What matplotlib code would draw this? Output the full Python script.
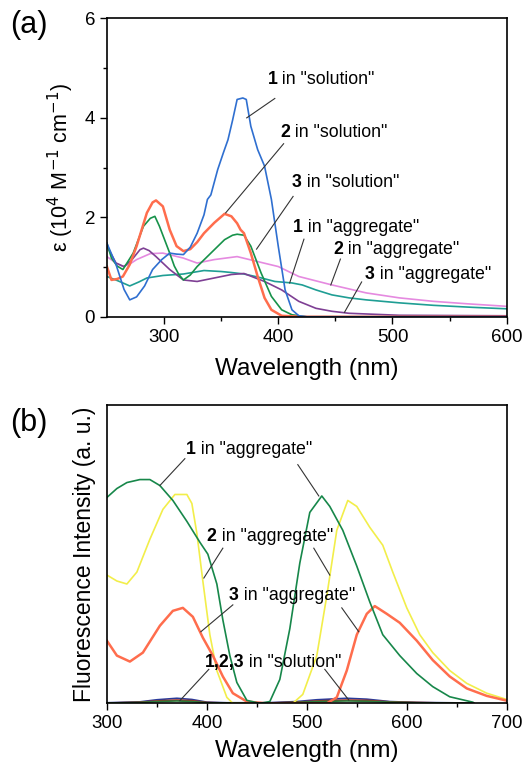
import numpy as np
import matplotlib.pyplot as plt

plt.rcParams['font.family'] = ['Liberation Sans', 'DejaVu Sans']

# ---- panel (a): absorption, epsilon in 10^4 M-1 cm-1 ----
wl_1sol = [250, 258, 265, 270, 276, 283, 290, 298, 305, 311, 317, 323, 329, 335, 338, 341, 347, 352, 356, 360,
           364, 369, 372, 376, 382, 388, 394, 400, 406, 412, 418, 425, 440, 600]
eps_1sol = [1.48, 1.05, 0.55, 0.34, 0.40, 0.62, 0.95, 1.15, 1.28, 1.26, 1.25, 1.40, 1.68, 2.05, 2.36, 2.45, 2.96, 3.30, 3.56, 3.95,
            4.37, 4.40, 4.37, 3.83, 3.36, 3.03, 2.36, 1.42, 0.54, 0.14, 0.02, 0.0, 0.0, 0.0]

wl_2sol = [250, 254, 259, 264, 270, 276, 285, 290, 293, 299, 305, 311, 317, 323, 329, 335, 344, 353, 359, 364,
           367, 370, 376, 382, 388, 394, 403, 420, 600]
eps_2sol = [1.01, 0.74, 0.76, 0.81, 1.05, 1.42, 2.09, 2.30, 2.34, 2.22, 1.75, 1.42, 1.32, 1.36, 1.50, 1.68, 1.89, 2.07, 2.02, 1.88,
            1.75, 1.68, 1.28, 0.81, 0.38, 0.14, 0.02, 0.0, 0.0]

wl_3sol = [250, 254, 259, 264, 273, 282, 288, 292, 296, 300, 305, 309, 313, 317, 323, 329, 341, 353, 360, 364,
           370, 376, 385, 394, 403, 412, 425, 600]
eps_3sol = [1.48, 1.18, 1.02, 0.95, 1.28, 1.82, 1.98, 2.02, 1.82, 1.58, 1.28, 1.02, 0.85, 0.74, 0.84, 1.01, 1.28, 1.55, 1.64, 1.66,
            1.64, 1.42, 0.88, 0.41, 0.14, 0.04, 0.0, 0.0]

wl_1agg = [250, 260, 270, 278, 285, 299, 317, 335, 350, 359, 370, 382, 397, 412, 421, 433, 447, 462, 477, 506, 536, 570, 600]
eps_1agg = [0.81, 0.72, 0.62, 0.70, 0.78, 0.83, 0.86, 0.93, 0.91, 0.89, 0.86, 0.80, 0.71, 0.68, 0.64, 0.54, 0.44, 0.38, 0.34, 0.28, 0.23, 0.19, 0.16]

wl_2agg = [250, 258, 264, 270, 276, 288, 299, 317, 329, 344, 364, 382, 400, 418, 447, 477, 506, 536, 566, 600]
eps_2agg = [1.21, 1.08, 1.01, 1.06, 1.15, 1.27, 1.28, 1.18, 1.08, 1.15, 1.21, 1.11, 1.01, 0.81, 0.64, 0.48, 0.38, 0.31, 0.26, 0.21]

wl_3agg = [250, 258, 265, 272, 279, 282, 287, 293, 305, 317, 329, 344, 359, 370, 388, 403, 418, 433, 447, 462, 506, 600]
eps_3agg = [1.42, 1.08, 1.01, 1.15, 1.35, 1.38, 1.33, 1.21, 0.95, 0.74, 0.71, 0.78, 0.85, 0.87, 0.71, 0.54, 0.31, 0.17, 0.11, 0.07, 0.03, 0.02]

# ---- panel (b): fluorescence, arbitrary units ----
wl_f1 = [300, 310, 320, 333, 343, 353, 366, 380, 393, 401, 410, 416, 423, 430, 440, 453, 463, 473, 483, 493,
         503, 515, 523, 536, 550, 563, 576, 593, 610, 626, 643, 666]
fl_1agg = [0.69, 0.72, 0.74, 0.75, 0.75, 0.73, 0.68, 0.61, 0.54, 0.50, 0.40, 0.28, 0.16, 0.07, 0.01, 0.0, 0.006, 0.08, 0.25, 0.47,
           0.64, 0.695, 0.66, 0.58, 0.46, 0.34, 0.23, 0.16, 0.10, 0.056, 0.022, 0.004]

wl_f2 = [300, 310, 320, 330, 343, 356, 368, 380, 385, 390, 396, 403, 410, 420, 426, 486, 496, 510, 520, 530,
         541, 550, 563, 576, 586, 600, 613, 626, 643, 660, 680, 700]
fl_2agg = [0.43, 0.41, 0.40, 0.44, 0.55, 0.65, 0.70, 0.70, 0.67, 0.57, 0.41, 0.23, 0.11, 0.02, 0.0, 0.0, 0.03, 0.16, 0.36, 0.58,
           0.68, 0.66, 0.59, 0.53, 0.44, 0.32, 0.23, 0.17, 0.11, 0.067, 0.034, 0.013]

wl_f3 = [300, 310, 323, 336, 353, 366, 376, 386, 396, 406, 416, 426, 440, 460, 520, 530, 540, 550, 560, 568,
         580, 593, 610, 626, 643, 660, 680, 700]
fl_3agg = [0.21, 0.16, 0.14, 0.17, 0.26, 0.31, 0.32, 0.29, 0.22, 0.16, 0.09, 0.034, 0.006, 0.0, 0.0, 0.02, 0.11, 0.23, 0.30, 0.326,
           0.30, 0.27, 0.21, 0.145, 0.09, 0.05, 0.025, 0.009]

wl_fsol = [300, 333, 350, 370, 385, 400, 420, 460, 490, 510, 540, 560, 583, 610, 640, 667]
fl_1sol = [0.002, 0.005, 0.012, 0.017, 0.013, 0.004, 0.002, 0.002, 0.006, 0.012, 0.017, 0.014, 0.006, 0.003, 0.002, 0.001]
fl_2sol = [0.001, 0.004, 0.008, 0.011, 0.009, 0.003, 0.001, 0.001, 0.004, 0.008, 0.011, 0.010, 0.005, 0.003, 0.001, 0.0]
fl_3sol = [0.001, 0.003, 0.006, 0.008, 0.006, 0.002, 0.001, 0.001, 0.003, 0.006, 0.008, 0.007, 0.004, 0.002, 0.001, 0.0]

fig = plt.figure(figsize=(5.24, 7.67), dpi=100)
ax1 = fig.add_axes([0.204, 0.587, 0.763, 0.389])
ax2 = fig.add_axes([0.204, 0.083, 0.763, 0.389])

lw = 1.2
ax1.plot(wl_2agg, eps_2agg, color='#e58ae0', lw=lw)
ax1.plot(wl_1agg, eps_1agg, color='#1f9e94', lw=lw)
ax1.plot(wl_3agg, eps_3agg, color='#7e3f94', lw=lw)
ax1.plot(wl_3sol, eps_3sol, color='#17924a', lw=lw)
ax1.plot(wl_2sol, eps_2sol, color='#ff6d4d', lw=1.8)
ax1.plot(wl_1sol, eps_1sol, color='#2f6fd0', lw=lw)

ax1.set_xlim(250, 600)
ax1.set_ylim(0, 6)
ax1.set_xticks([300, 400, 500, 600])
ax1.set_xticks([350, 450, 550], minor=True)
ax1.set_yticks([0, 2, 4, 6])
ax1.set_yticks([1, 3, 5], minor=True)
ax1.set_xlabel('Wavelength (nm)', fontsize=17.5, labelpad=9)
ax1.set_ylabel('ε (10$^4$ M$^{-1}$ cm$^{-1}$)', fontsize=15.5, labelpad=6)

# leader lines and labels, panel (a)
labels_a = [
    ((372.4, 4.00), (397, 4.39), (390.5, 4.77), '1', ' in "solution"'),
    ((354, 2.09), (404.7, 3.48), (402, 3.70), '2', ' in "solution"'),
    ((381, 1.36), (413, 2.42), (412, 2.70), '3', ' in "solution"'),
    ((410, 0.68), (422.5, 1.56), (413, 1.80), '1', ' in "aggregate"'),
    ((446, 0.64), (454.4, 1.16), (448, 1.35), '2', ' in "aggregate"'),
    ((458, 0.09), (473, 0.70), (476, 0.86), '3', ' in "aggregate"'),
]
for p0, p1, pt, num, rest in labels_a:
    ax1.plot([p0[0], p1[0]], [p0[1], p1[1]], color='#333333', lw=0.8)
    t = ax1.text(pt[0], pt[1], num, fontsize=12.8, fontweight='bold', va='center', ha='left')
    ax1.annotate(rest, xycoords=t, xy=(1, 0.5), va='center', ha='left', fontsize=12.8)

ax2.plot(wl_fsol, fl_1sol, color='#2a3a9a', lw=lw)
ax2.plot(wl_fsol, fl_2sol, color='#a03020', lw=lw)
ax2.plot(wl_fsol, fl_3sol, color='#2a7a3a', lw=lw)
ax2.plot(wl_f2, fl_2agg, color='#f2ee4a', lw=lw)
ax2.plot(wl_f3, fl_3agg, color='#ff6d4d', lw=1.8)
ax2.plot(wl_f1, fl_1agg, color='#17874a', lw=lw)

ax2.set_xlim(300, 700)
ax2.set_ylim(0, 1)
ax2.set_xticks([300, 400, 500, 600, 700])
ax2.set_xticks([350, 450, 550, 650], minor=True)
ax2.set_yticks([])
ax2.set_xlabel('Wavelength (nm)', fontsize=17.5, labelpad=6)
ax2.set_ylabel('Fluorescence Intensity (a. u.)', fontsize=16.5, labelpad=8)

labels_b = [
    ([(353, 0.73), (512, 0.695)], [(378, 0.82), (491, 0.80)], (379, 0.85), '1', ' in "aggregate"'),
    ([(397, 0.42), (523, 0.43)], [(416, 0.52), (507, 0.52)], (400, 0.56), '2', ' in "aggregate"'),
    ([(394, 0.24), (552, 0.24)], [(426, 0.33), (535, 0.32)], (422, 0.36), '3', ' in "aggregate"'),
    ([(373, 0.009), (542, 0.011)], [(402, 0.114), (518, 0.114)], (398, 0.136), '1,2,3', ' in "solution"'),
]
for starts, ends, pt, num, rest in labels_b:
    for p0, p1 in zip(starts, ends):
        ax2.plot([p0[0], p1[0]], [p0[1], p1[1]], color='#333333', lw=0.8)
    t = ax2.text(pt[0], pt[1], num, fontsize=12.8, fontweight='bold', va='center', ha='left')
    ax2.annotate(rest, xycoords=t, xy=(1, 0.5), va='center', ha='left', fontsize=12.8)

for ax in (ax1, ax2):
    ax.tick_params(which='major', direction='out', length=5, width=1, labelsize=13.5)
    ax.tick_params(which='minor', direction='out', length=3, width=1)
    for s in ax.spines.values():
        s.set_linewidth(1.2)

fig.text(0.02, 0.967, '(a)', fontsize=22, va='center')
fig.text(0.02, 0.449, '(b)', fontsize=22, va='center')

fig.savefig('out.png', dpi=100)
